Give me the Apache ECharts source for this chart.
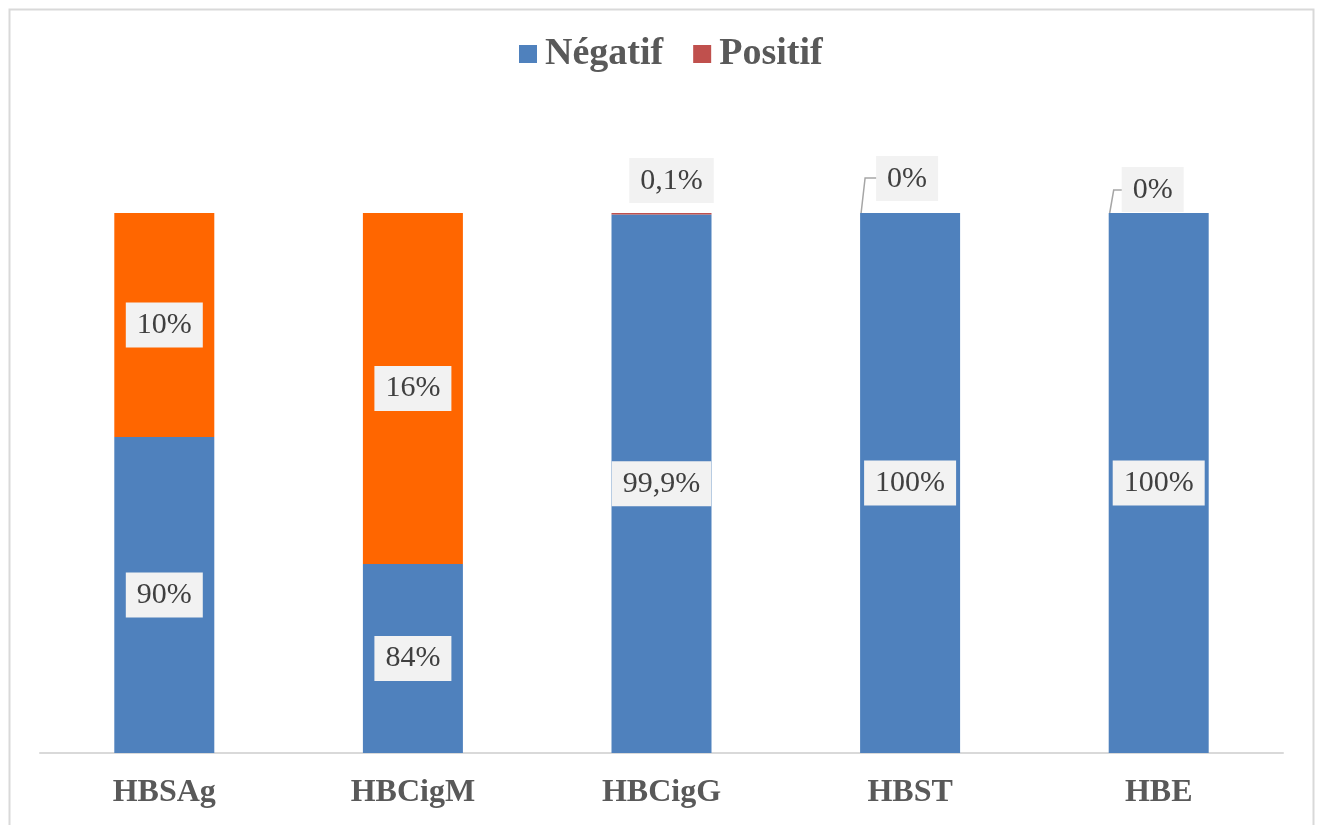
<!DOCTYPE html>
<html><head><meta charset="utf-8">
<script src="https://cdn.jsdelivr.net/npm/echarts@6/dist/echarts.min.js"></script>
<style>html,body{margin:0;padding:0;background:#fff}#c{width:1317px;height:825px}</style>
</head><body><div id="c"></div>
<script>
var categories = ['HBSAg', 'HBCigM', 'HBCigG', 'HBST', 'HBE'];
var negatifValues = [58.5, 35, 99.7, 100, 100];
var positifValues = [41.5, 65, 0.3, 0, 0];
var negatifLabels = ['90%', '84%', '99,9%', '100%', '100%'];
var positifLabels = ['10%', '16%', '0,1%', '0%', '0%'];
var positifColors = ['#FF6600', '#FF6600', '#C0504D', '#C0504D', '#C0504D'];

var FONT = "'Liberation Serif', 'Times New Roman', serif";
var labelBox = {
  fontFamily: FONT, fontSize: 30, color: '#404040',
  backgroundColor: '#F2F2F2', padding: [8, 11, 7, 11]
};
// per-item placement of the small top labels (style, not data)
var topLabelStyle = {
  2: { distance: 10, offset: [10, 0] },
  3: { distance: 12, offset: [-3, 0], elbow: 35, end: 32 },
  4: { distance: 1, offset: [-6, 0], elbow: 23, end: 35 }
};

var leaderData = [];
positifValues.forEach(function (v, i) {
  if (v === 0) leaderData.push([i, negatifValues[i] + v]);
});

var chart = echarts.init(document.getElementById('c'));
chart.setOption({
  animation: false,
  graphic: [{
    type: 'rect', left: 7, top: 7, silent: true,
    shape: { width: 1304, height: 900 },
    style: { fill: 'none', stroke: '#D9D9D9', lineWidth: 2 }
  }],
  legend: {
    top: 30, left: 514,
    itemWidth: 18, itemHeight: 18, itemGap: 30,
    icon: 'rect',
    textStyle: { fontFamily: FONT, fontSize: 38, fontWeight: 'bold', color: '#595959', padding: [0, 0, 0, 3] },
    data: [{ name: 'Négatif', itemStyle: { color: '#4F81BD' } }, { name: 'Positif', itemStyle: { color: '#C0504D' } }]
  },
  grid: { left: 40, right: 34, top: 213, bottom: 72 },
  xAxis: {
    type: 'category', data: categories,
    axisLine: { lineStyle: { color: '#D9D9D9', width: 2 } },
    axisTick: { show: false },
    axisLabel: { fontFamily: FONT, fontSize: 32, fontWeight: 'bold', color: '#595959', margin: 24 }
  },
  yAxis: { type: 'value', min: 0, max: 100, show: false, splitLine: { show: false } },
  series: [
    {
      name: 'Négatif', type: 'bar', stack: 's', barWidth: 100,
      itemStyle: { color: '#4F81BD' },
      data: negatifValues.slice(),
      label: Object.assign({
        show: true, position: 'inside',
        formatter: function (p) { return negatifLabels[p.dataIndex]; }
      }, labelBox)
    },
    {
      name: 'Positif', type: 'bar', stack: 's', barWidth: 100,
      itemStyle: { color: '#C0504D' },
      data: positifValues.map(function (v, i) {
        var item = { value: v, itemStyle: { color: positifColors[i] } };
        var s = topLabelStyle[i];
        if (s) item.label = { position: 'top', distance: s.distance, offset: s.offset };
        return item;
      }),
      label: Object.assign({
        show: true, position: 'inside',
        formatter: function (p) { return positifLabels[p.dataIndex]; }
      }, labelBox)
    },
    {
      type: 'custom', silent: true, z: 1,
      data: leaderData,
      renderItem: function (params, api) {
        var idx = api.value(0);
        var p = api.coord([idx, api.value(1)]);
        var s = topLabelStyle[idx];
        var half = 50;
        return {
          type: 'polyline',
          shape: { points: [[p[0] - half + 1, p[1]], [p[0] - half + 5, p[1] - s.elbow], [p[0] - s.end, p[1] - s.elbow]] },
          style: { stroke: '#A6A6A6', lineWidth: 1.5, fill: 'none' }
        };
      }
    }
  ]
});
</script></body></html>
